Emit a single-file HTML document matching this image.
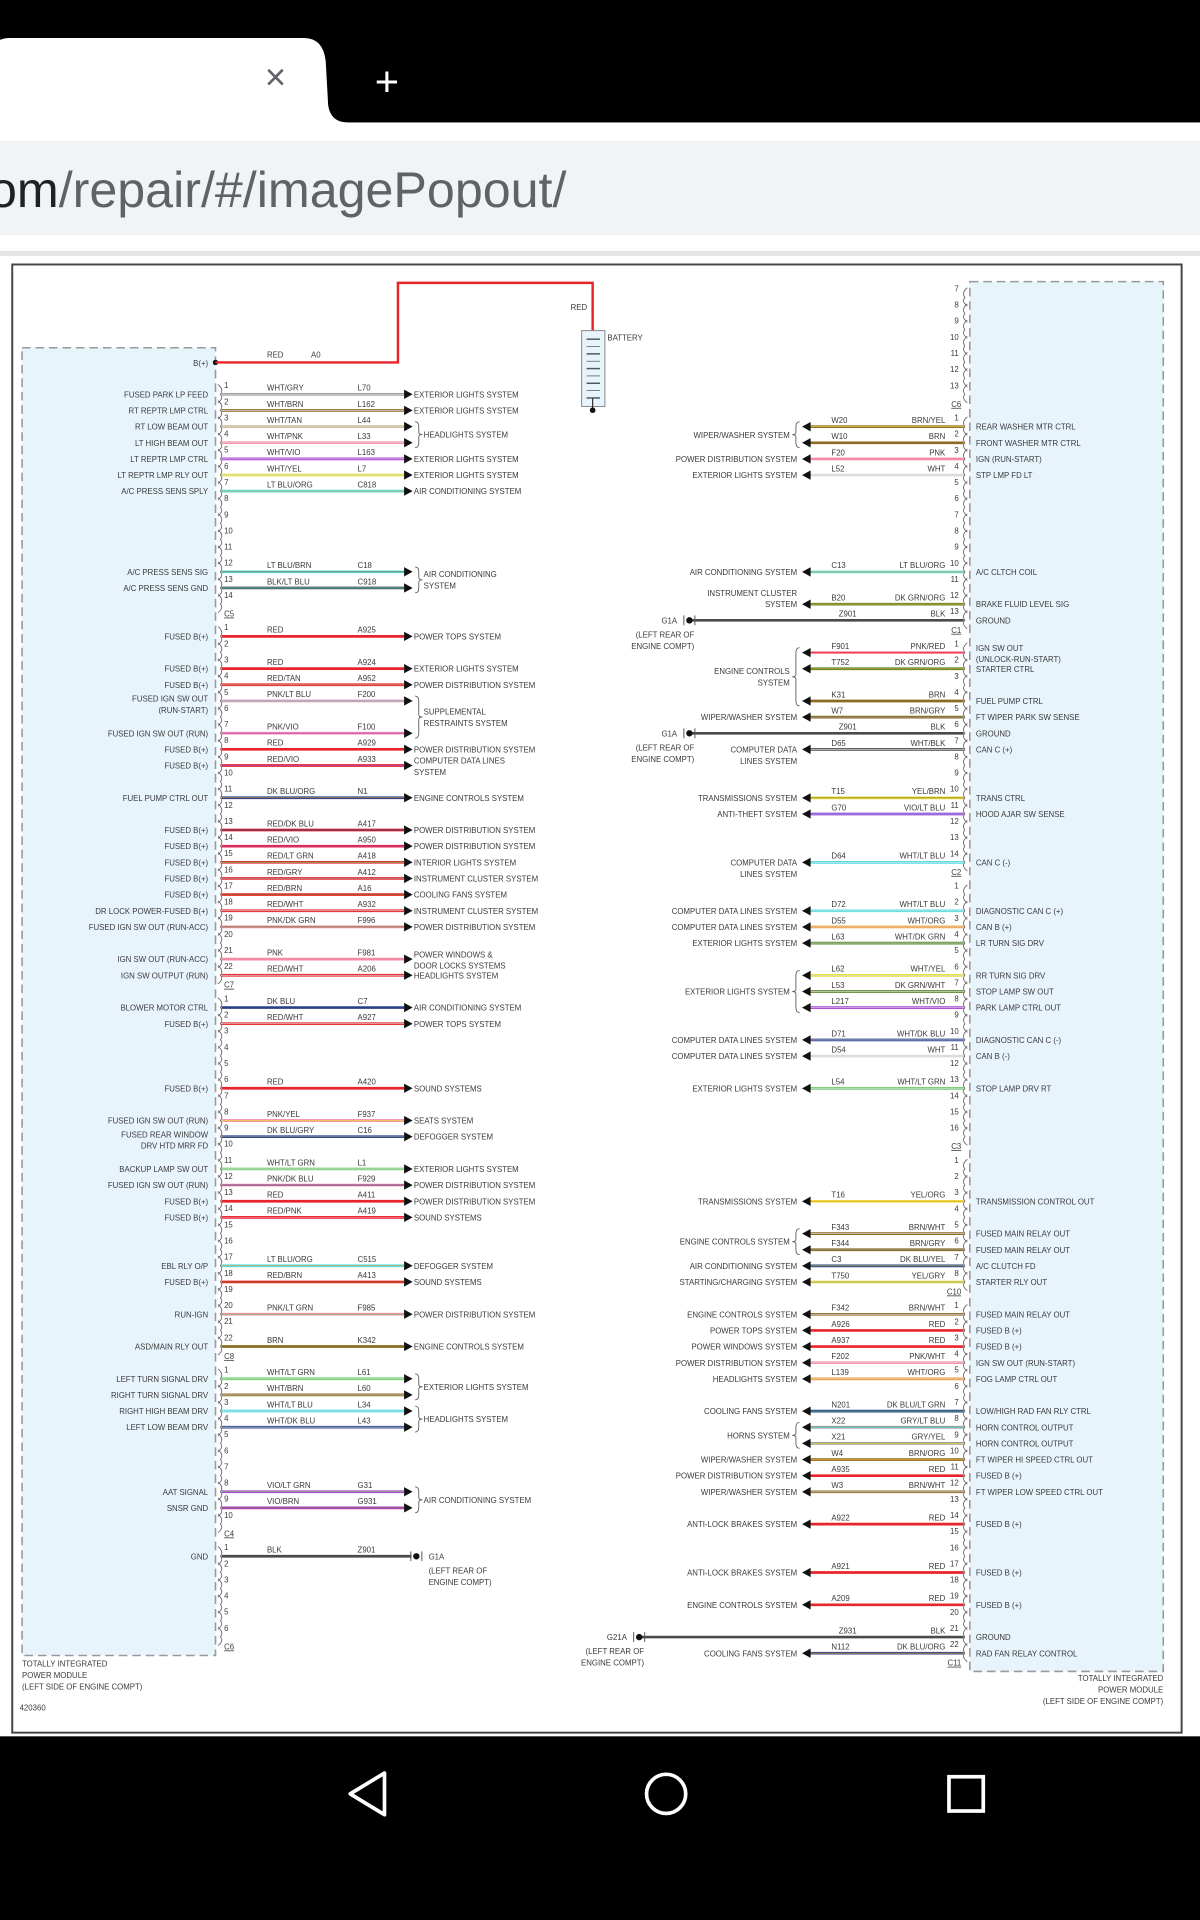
<!DOCTYPE html>
<html><head><meta charset="utf-8"><style>
html,body{margin:0;padding:0;background:#000;}
svg{display:block}
text{font-family:"Liberation Sans",sans-serif;}
</style></head><body>
<svg id="root" width="1200" height="1920" viewBox="0 0 980 1568" xmlns="http://www.w3.org/2000/svg">
<rect x="0" y="0" width="980" height="1568" fill="#000"/>
<path d="M-5 100 L-5 42 Q-5 31 8 31 L248 31 Q264 31 266 50 L268 86 Q270 100 284 100 Z" fill="#fff"/>
<text x="225" y="73" font-size="30" fill="#5f6368" text-anchor="middle">×</text>
<text x="316" y="78" font-size="34" fill="#fff" text-anchor="middle">+</text>
<rect x="0" y="100" width="980" height="110" fill="#fff"/>
<rect x="0" y="115" width="980" height="77" fill="#f1f3f4"/>
<text x="-9" y="169" font-size="41" fill="#5f6368"><tspan fill="#202124">om</tspan>/repair/#/imagePopout/</text>
<rect x="0" y="205" width="980" height="4" fill="#e4e4e4"/>
<rect x="0" y="209" width="980" height="1209" fill="#fff"/>
<rect x="10" y="216" width="955" height="1199" fill="#fff" stroke="#444" stroke-width="1.6"/>
<rect x="18" y="284" width="158" height="1068" fill="#e8f4fc" stroke="#999" stroke-width="1.3" stroke-dasharray="7,4"/>
<rect x="792" y="230" width="158" height="1135" fill="#e8f4fc" stroke="#999" stroke-width="1.3" stroke-dasharray="7,4"/>
<g id="g"></g>
<circle cx="544" cy="1465" r="16" fill="none" stroke="#fff" stroke-width="3"/>
<path d="M314 1448 L314 1482 L286 1465 Z" fill="none" stroke="#fff" stroke-width="3" stroke-linejoin="round"/>
<rect x="775" y="1451" width="28" height="28" fill="none" stroke="#fff" stroke-width="3"/>
</svg>
<script>
const leftConnectors = [
 ["C5", ["1|FUSED PARK LP FEED|WHT/GRY|L70|EXTERIOR LIGHTS SYSTEM","2|RT REPTR LMP CTRL|WHT/BRN|L162|EXTERIOR LIGHTS SYSTEM","3|RT LOW BEAM OUT|WHT/TAN|L44|HEADLIGHTS SYSTEM|2","4|LT HIGH BEAM OUT|WHT/PNK|L33|","5|LT REPTR LMP CTRL|WHT/VIO|L163|EXTERIOR LIGHTS SYSTEM","6|LT REPTR LMP RLY OUT|WHT/YEL|L7|EXTERIOR LIGHTS SYSTEM","7|A/C PRESS SENS SPLY|LT BLU/ORG|C818|AIR CONDITIONING SYSTEM","8","9","10","11","12|A/C PRESS SENS SIG|LT BLU/BRN|C18|AIR CONDITIONING\nSYSTEM|2","13|A/C PRESS SENS GND|BLK/LT BLU|C918|","14"]],
 ["C7", ["1|FUSED B(+)|RED|A925|POWER TOPS SYSTEM","2","3|FUSED B(+)|RED|A924|EXTERIOR LIGHTS SYSTEM","4|FUSED B(+)|RED/TAN|A952|POWER DISTRIBUTION SYSTEM","5|FUSED IGN SW OUT\n(RUN-START)|PNK/LT BLU|F200|SUPPLEMENTAL\nRESTRAINTS SYSTEM|3","6","7|FUSED IGN SW OUT (RUN)|PNK/VIO|F100|","8|FUSED B(+)|RED|A929|POWER DISTRIBUTION SYSTEM","9|FUSED B(+)|RED/VIO|A933|COMPUTER DATA LINES\nSYSTEM","10","11|FUEL PUMP CTRL OUT|DK BLU/ORG|N1|ENGINE CONTROLS SYSTEM","12","13|FUSED B(+)|RED/DK BLU|A417|POWER DISTRIBUTION SYSTEM","14|FUSED B(+)|RED/VIO|A950|POWER DISTRIBUTION SYSTEM","15|FUSED B(+)|RED/LT GRN|A418|INTERIOR LIGHTS SYSTEM","16|FUSED B(+)|RED/GRY|A412|INSTRUMENT CLUSTER SYSTEM","17|FUSED B(+)|RED/BRN|A16|COOLING FANS SYSTEM","18|DR LOCK POWER-FUSED B(+)|RED/WHT|A932|INSTRUMENT CLUSTER SYSTEM","19|FUSED IGN SW OUT (RUN-ACC)|PNK/DK GRN|F996|POWER DISTRIBUTION SYSTEM","20","21|IGN SW OUT (RUN-ACC)|PNK|F981|POWER WINDOWS &\nDOOR LOCKS SYSTEMS","22|IGN SW OUTPUT (RUN)|RED/WHT|A206|HEADLIGHTS SYSTEM"]],
 ["C8", ["1|BLOWER MOTOR CTRL|DK BLU|C7|AIR CONDITIONING SYSTEM","2|FUSED B(+)|RED/WHT|A927|POWER TOPS SYSTEM","3","4","5","6|FUSED B(+)|RED|A420|SOUND SYSTEMS","7","8|FUSED IGN SW OUT (RUN)|PNK/YEL|F937|SEATS SYSTEM","9|FUSED REAR WINDOW\nDRV HTD MRR FD|DK BLU/GRY|C16|DEFOGGER SYSTEM","10","11|BACKUP LAMP SW OUT|WHT/LT GRN|L1|EXTERIOR LIGHTS SYSTEM","12|FUSED IGN SW OUT (RUN)|PNK/DK BLU|F929|POWER DISTRIBUTION SYSTEM","13|FUSED B(+)|RED|A411|POWER DISTRIBUTION SYSTEM","14|FUSED B(+)|RED/PNK|A419|SOUND SYSTEMS","15","16","17|EBL RLY O/P|LT BLU/ORG|C515|DEFOGGER SYSTEM","18|FUSED B(+)|RED/BRN|A413|SOUND SYSTEMS","19","20|RUN-IGN|PNK/LT GRN|F985|POWER DISTRIBUTION SYSTEM","21","22|ASD/MAIN RLY OUT|BRN|K342|ENGINE CONTROLS SYSTEM"]],
 ["C4", ["1|LEFT TURN SIGNAL DRV|WHT/LT GRN|L61|EXTERIOR LIGHTS SYSTEM|2","2|RIGHT TURN SIGNAL DRV|WHT/BRN|L60|","3|RIGHT HIGH BEAM DRV|WHT/LT BLU|L34|HEADLIGHTS SYSTEM|2","4|LEFT LOW BEAM DRV|WHT/DK BLU|L43|","5","6","7","8|AAT SIGNAL|VIO/LT GRN|G31|AIR CONDITIONING SYSTEM|2","9|SNSR GND|VIO/BRN|G931|","10"]],
 ["C6", ["1|GND|BLK|Z901|@G1A","2","3","4","5","6"]]
];
const rightConnectors = [
 ["C6", ["7","8","9","10","11","12","13"]],
 ["C1", ["1|REAR WASHER MTR CTRL|BRN/YEL|W20|WIPER/WASHER SYSTEM|2","2|FRONT WASHER MTR CTRL|BRN|W10|","3|IGN (RUN-START)|PNK|F20|POWER DISTRIBUTION SYSTEM","4|STP LMP FD LT|WHT|L52|EXTERIOR LIGHTS SYSTEM","5","6","7","8","9","10|A/C CLTCH COIL|LT BLU/ORG|C13|AIR CONDITIONING SYSTEM","11","12|BRAKE FLUID LEVEL SIG|DK GRN/ORG|B20|INSTRUMENT CLUSTER\nSYSTEM","13|GROUND|BLK|Z901|@G1A"]],
 ["C2", ["1|IGN SW OUT\n(UNLOCK-RUN-START)|PNK/RED|F901|ENGINE CONTROLS\nSYSTEM|4","2|STARTER CTRL|DK GRN/ORG|T752|","3","4|FUEL PUMP CTRL|BRN|K31|","5|FT WIPER PARK SW SENSE|BRN/GRY|W7|WIPER/WASHER SYSTEM","6|GROUND|BLK|Z901|@G1A","7|CAN C (+)|WHT/BLK|D65|COMPUTER DATA\nLINES SYSTEM","8","9","10|TRANS CTRL|YEL/BRN|T15|TRANSMISSIONS SYSTEM","11|HOOD AJAR SW SENSE|VIO/LT BLU|G70|ANTI-THEFT SYSTEM","12","13","14|CAN C (-)|WHT/LT BLU|D64|COMPUTER DATA\nLINES SYSTEM"]],
 ["C3", ["1","2|DIAGNOSTIC CAN C (+)|WHT/LT BLU|D72|COMPUTER DATA LINES SYSTEM","3|CAN B (+)|WHT/ORG|D55|COMPUTER DATA LINES SYSTEM","4|LR TURN SIG DRV|WHT/DK GRN|L63|EXTERIOR LIGHTS SYSTEM","5","6|RR TURN SIG DRV|WHT/YEL|L62|EXTERIOR LIGHTS SYSTEM|3","7|STOP LAMP SW OUT|DK GRN/WHT|L53|","8|PARK LAMP CTRL OUT|WHT/VIO|L217|","9","10|DIAGNOSTIC CAN C (-)|WHT/DK BLU|D71|COMPUTER DATA LINES SYSTEM","11|CAN B (-)|WHT|D54|COMPUTER DATA LINES SYSTEM","12","13|STOP LAMP DRV RT|WHT/LT GRN|L54|EXTERIOR LIGHTS SYSTEM","14","15","16"]],
 ["C10", ["1","2","3|TRANSMISSION CONTROL OUT|YEL/ORG|T16|TRANSMISSIONS SYSTEM","4","5|FUSED MAIN RELAY OUT|BRN/WHT|F343|ENGINE CONTROLS SYSTEM|2","6|FUSED MAIN RELAY OUT|BRN/GRY|F344|","7|A/C CLUTCH FD|DK BLU/YEL|C3|AIR CONDITIONING SYSTEM","8|STARTER RLY OUT|YEL/GRY|T750|STARTING/CHARGING SYSTEM"]],
 ["C11", ["1|FUSED MAIN RELAY OUT|BRN/WHT|F342|ENGINE CONTROLS SYSTEM","2|FUSED B (+)|RED|A926|POWER TOPS SYSTEM","3|FUSED B (+)|RED|A937|POWER WINDOWS SYSTEM","4|IGN SW OUT (RUN-START)|PNK/WHT|F202|POWER DISTRIBUTION SYSTEM","5|FOG LAMP CTRL OUT|WHT/ORG|L139|HEADLIGHTS SYSTEM","6","7|LOW/HIGH RAD FAN RLY CTRL|DK BLU/LT GRN|N201|COOLING FANS SYSTEM","8|HORN CONTROL OUTPUT|GRY/LT BLU|X22|HORNS SYSTEM|2","9|HORN CONTROL OUTPUT|GRY/YEL|X21|","10|FT WIPER HI SPEED CTRL OUT|BRN/ORG|W4|WIPER/WASHER SYSTEM","11|FUSED B (+)|RED|A935|POWER DISTRIBUTION SYSTEM","12|FT WIPER LOW SPEED CTRL OUT|BRN/WHT|W3|WIPER/WASHER SYSTEM","13","14|FUSED B (+)|RED|A922|ANTI-LOCK BRAKES SYSTEM","15","16","17|FUSED B (+)|RED|A921|ANTI-LOCK BRAKES SYSTEM","18","19|FUSED B (+)|RED|A209|ENGINE CONTROLS SYSTEM","20","21|GROUND|BLK|Z931|@G21A","22|RAD FAN RELAY CONTROL|DK BLU/ORG|N112|COOLING FANS SYSTEM"]]
];
const COL={"WHT":"#dcdcdc","RED":"#e8242a","PNK":"#f58aa6","BRN":"#8c6a22","YEL":"#e6e040","LT BLU":"#4fe0e8","DK BLU":"#27408a","BLK":"#4a4a4a","VIO":"#b040d8","DK GRN":"#5a8a2a","LT GRN":"#70d070","ORG":"#f29a30","GRY":"#9a9a9a","TAN":"#c8b48a"};
const NS="http://www.w3.org/2000/svg";
const G=document.getElementById('g');
function mk(tag,attrs,parent){const e=document.createElementNS(NS,tag);for(const k in attrs)e.setAttribute(k,attrs[k]);(parent||G).appendChild(e);return e;}
function txt(x,y,s,anchor,size,name){const lines=s.split("\n");const out=[];lines.forEach((l,i)=>{const t=mk('text',{x:x,y:y+i*9.3,'font-size':size||6.4,fill:'#3a3a3a','text-anchor':anchor||'start'});t.textContent=l;


out.push(t);});return out;}
function ml(s){return s.indexOf("\n")>=0?4:0;}
function wire(x1,x2,y,cname,name){const parts=cname.split("/");let main=parts[0],tr=parts[1];if(main==="WHT"&&tr){main=tr;tr="WHT";}
const l=mk('line',{x1:x1,y1:y,x2:x2,y2:y,stroke:COL[main]||'#888','stroke-width':2.2});


if(tr){const t=mk('line',{x1:x1,y1:y,x2:x2,y2:y,stroke:COL[tr]||'#888','stroke-width':0.7,'stroke-opacity':0.8});

}}
function ground(cx,y,label,labelX,anchor){const g=mk('g',{});


mk('circle',{cx:cx,cy:y,r:2.6,fill:'#111'},g);
mk('path',{d:`M${cx-4.5} ${y-4} L${cx-4.5} ${y+4} M${cx+4.5} ${y-4} L${cx+4.5} ${y+4}`,stroke:'#555','stroke-width':0.8,fill:'none'},g);
txt(labelX,y+2.5,label,anchor);txt(anchor==='end'?labelX+14:labelX,y+14,"(LEFT REAR OF\nENGINE COMPT)",anchor==='end'?'end':'start');}
function brace(x,y1,y2,dir){const m=(y1+y2)/2,d=dir*3;const p=mk('path',{d:`M${x} ${y1} Q${x+d} ${y1} ${x+d} ${y1+4} L${x+d} ${m-2} Q${x+d} ${m} ${x+2*d} ${m} Q${x+d} ${m} ${x+d} ${m+2} L${x+d} ${y2-4} Q${x+d} ${y2} ${x} ${y2}`,fill:'none',stroke:'#555','stroke-width':0.7});

}
const STEP=13.18;
// LEFT
let y=317;
leftConnectors.forEach(([cname,rows])=>{
 rows.forEach((r,i)=>{
  const f=r.split("|");const wy=y+5;
  txt(183,y,f[0],'start',6.4,'left-pin-number');
  const b=mk('path',{d:`M178 ${y-3} Q183 ${y+1} 180 ${wy} Q183 ${wy+3} 178 ${wy+7}`,fill:'none',stroke:'#666','stroke-width':0.7});
  
  
  if(f.length>1){
   txt(170,wy+2.5-ml(f[1])/2,f[1],'end',6.4,'left-pin-function');
   const gnd=f[4]&&f[4][0]==='@';
   wire(181,gnd?336:330,wy,f[2],'left-wire-'+f[3].toLowerCase());
   txt(218,wy-3,f[2],'start',6.4,'wire-color-label');
   txt(292,wy-3,f[3],'start',6.4,'circuit-label');
   if(gnd){ground(340,wy,f[4].slice(1),350,'start');}
   else{
    const a=mk('path',{d:`M330 ${wy-3.8} L337 ${wy} L330 ${wy+3.8} Z`,fill:'#111'});
    
    
    const span=+(f[5]||1);
    if(f[4]){
     if(span>1){const y2=wy+(span-1)*STEP;brace(339,wy-4,y2+4,1);const nl=f[4].split("\n").length;txt(346,(wy+y2)/2+2.5-(nl-1)*4.65,f[4],'start',6.4,'left-system-label');}
     else txt(338,wy+2.5-ml(f[4]),f[4],'start',6.4,'left-system-label');
    }
   }
  }
  y+=STEP;
 });
 const t=txt(183,y+2,cname,'start',6.4,'left-connector-id')[0];t.setAttribute('text-decoration','underline');
 y+=STEP;
});
// RIGHT
y=238;
rightConnectors.forEach(([cname,rows])=>{
 rows.forEach((r,i)=>{
  const f=r.split("|");const wy=y+5;
  txt(783,y,f[0],'end',6.4,'right-pin-number');
  const b=mk('path',{d:`M790 ${y-3} Q785 ${y+1} 788 ${wy} Q785 ${wy+3} 790 ${wy+7}`,fill:'none',stroke:'#666','stroke-width':0.7});
  
  
  if(f.length>1){
   txt(797,wy+2.5-ml(f[1]),f[1],'start',6.4,'right-pin-function');
   const gnd=f[4]&&f[4][0]==='@';
   const gx=f[4]==='@G21A'?522:563;
   wire(gnd?gx:660,787,wy,f[2],'right-wire-'+f[3].toLowerCase());
   txt(772,wy-3,f[2],'end',6.4,'wire-color-label');
   txt(gnd?685:679,wy-3,f[3],'start',6.4,'circuit-label');
   if(gnd){ground(gx,wy,f[4].slice(1),gx-10,'end');}
   else{
    const a=mk('path',{d:`M662 ${wy-3.8} L655 ${wy} L662 ${wy+3.8} Z`,fill:'#111'});
    
    
    const span=+(f[5]||1);
    if(f[4]){
     if(span>1){const y2=wy+(span-1)*STEP;brace(653,wy-4,y2+4,-1);const nl=f[4].split("\n").length;txt(645,(wy+y2)/2+2.5-(nl-1)*4.65,f[4],'end',6.4,'right-system-label');}
     else {const up=(f[4].startsWith("INSTRUMENT"))?9.3:0;txt(651,wy+2.5-up,f[4],'end',6.4,'right-system-label');}
    }
   }
  }
  y+=STEP;
 });
 const t=txt(785,y+2,cname,'end',6.4,'right-connector-id')[0];t.setAttribute('text-decoration','underline');
 y+=STEP;
});
// battery feed
txt(170,299,"B(+)",'end',6.4,'battery-feed-label');
mk('circle',{cx:176,cy:296,r:2.2,fill:'#111'});
const rw=mk('path',{d:'M176 296 L325 296 L325 231 L484 231 L484 270',fill:'none',stroke:'#e8242a','stroke-width':2});


txt(218,292,"RED",'start',6.4,'wire-color-label');txt(254,292,"A0",'start',6.4,'circuit-label');
txt(466,253,"RED",'start',6.4,'wire-color-label');
const bat=mk('g',{});


mk('rect',{x:475,y:270,width:19,height:62,fill:'#e8f4fc',stroke:'#888','stroke-width':0.8},bat);
for(let i=0;i<9;i++){mk('line',{x1:479,x2:490,y1:277+i*6,y2:277+i*6,stroke:'#555','stroke-width':i%2?0.6:1.2},bat);}
mk('line',{x1:484,x2:484,y1:325,y2:335,stroke:'#333','stroke-width':1},bat);
mk('circle',{cx:484,cy:335,r:2.3,fill:'#111'},bat);
txt(496,278,"BATTERY",'start',6.4,'battery-label');
txt(18,1361,"TOTALLY INTEGRATED\nPOWER MODULE\n(LEFT SIDE OF ENGINE COMPT)",'start',6.4,'left-module-title');
txt(16,1397,"420360",'start',6.4,'figure-id');
txt(950,1373,"TOTALLY INTEGRATED\nPOWER MODULE\n(LEFT SIDE OF ENGINE COMPT)",'end',6.4,'right-module-title');
</script>
</body></html>
